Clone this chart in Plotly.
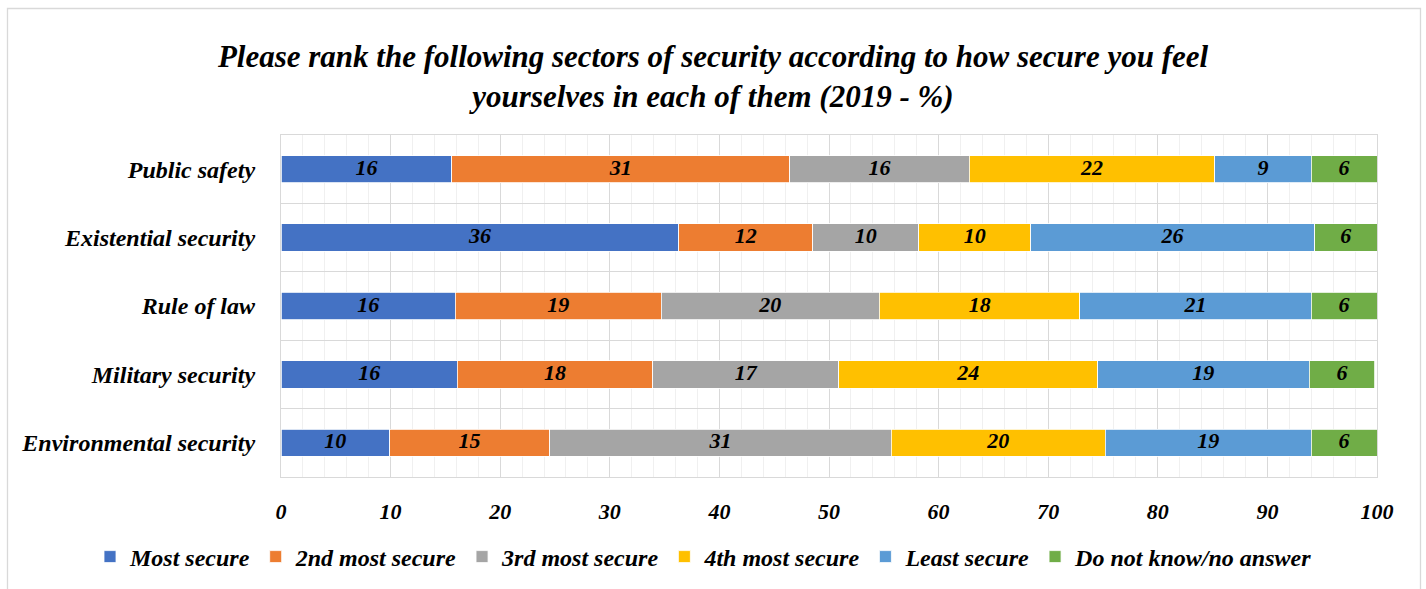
import plotly.graph_objects as go

categories = ["Public safety", "Existential security", "Rule of law", "Military security", "Environmental security"]
series_names = ["Most secure", "2nd most secure", "3rd most secure", "4th most secure", "Least secure", "Do not know/no answer"]
most_secure = [15.6, 36.3, 15.9, 16.1, 9.9]
second_most = [30.8, 12.2, 18.8, 17.8, 14.6]
third_most = [16.4, 9.7, 19.9, 17.0, 31.2]
fourth_most = [22.4, 10.2, 18.3, 23.6, 19.5]
least_secure = [8.8, 25.9, 21.1, 19.3, 18.8]
dont_know = [6.0, 5.7, 6.0, 6.0, 6.0]
labels_most = [16, 36, 16, 16, 10]
labels_second = [31, 12, 19, 18, 15]
labels_third = [16, 10, 20, 17, 31]
labels_fourth = [22, 10, 18, 24, 20]
labels_least = [9, 26, 21, 19, 19]
labels_dk = [6, 6, 6, 6, 6]
colors = ["#4472C4", "#ED7D31", "#A5A5A5", "#FFC000", "#5B9BD5", "#70AD47"]
x_ticks = [0, 10, 20, 30, 40, 50, 60, 70, 80, 90, 100]

values = [most_secure, second_most, third_most, fourth_most, least_secure, dont_know]
labels = [labels_most, labels_second, labels_third, labels_fourth, labels_least, labels_dk]

W, H = 1426, 589
ML, MR, MT, MB = 281, 49, 135, 112
FONT = "'Liberation Serif', 'Times New Roman', Times, serif"

fig = go.Figure()
for name, vals, col in zip(series_names, values, colors):
    fig.add_trace(go.Bar(
        y=categories, x=vals, name=name, orientation="h",
        marker=dict(color=col, line=dict(color="white", width=0.8)),
        hoverinfo="x+y+name",
    ))

# data labels at the centre of each stacked segment (computed from the data)
cum = [0.0] * len(categories)
for vals, labs in zip(values, labels):
    mids = [c + v / 2 for c, v in zip(cum, vals)]
    cum = [c + v for c, v in zip(cum, vals)]
    fig.add_trace(go.Scatter(
        y=categories, x=mids, mode="text", text=[str(v) for v in labs],
        textposition="middle center", showlegend=False, hoverinfo="skip",
        textfont=dict(family=FONT, size=22, color="black", weight="bold", style="italic"),
    ))

pw = W - ML - MR
ph = H - MT - MB
def px2x(p):
    return (p - ML) / pw
def px2y(p):
    return (H - MB - p) / ph

fig.update_layout(
    width=W, height=H,
    margin=dict(l=ML, r=MR, t=MT, b=MB, autoexpand=False),
    barmode="stack", bargap=0.6,
    paper_bgcolor="white", plot_bgcolor="white",
    font=dict(family=FONT, size=20, color="black", weight="bold", style="italic"),
    title=dict(
        text="Please rank the following sectors of security according to how secure you feel<br>yourselves in each of them (2019 - %)",
        x=0.5, xanchor="center", xref="container",
        y=1 - 67 / H, yanchor="middle", yref="container",
        font=dict(family=FONT, size=31, color="black", weight="bold", style="italic"),
    ),
    xaxis=dict(
        range=[0, 100], tickvals=x_ticks, ticktext=[str(t) for t in x_ticks],
        showgrid=True, gridcolor="#D9D9D9", gridwidth=1.3,
        minor=dict(dtick=2, showgrid=True, gridcolor="#F0F0F0", gridwidth=1),
        zeroline=False, showline=True, linecolor="#D9D9D9", linewidth=1.3, mirror=True,
        ticks="", ticklabelstandoff=14,
        tickfont=dict(family=FONT, size=22, color="black", weight="bold", style="italic"),
        fixedrange=True,
    ),
    yaxis=dict(
        categoryorder="array", categoryarray=categories, autorange="reversed",
        tickson="boundaries", showgrid=True, gridcolor="#D9D9D9", gridwidth=1.3,
        zeroline=False, showline=True, linecolor="#D9D9D9", linewidth=1.3, mirror=True,
        ticks="", ticklabelstandoff=20,
        tickfont=dict(family=FONT, size=24, color="black", weight="bold", style="italic"),
        fixedrange=True,
    ),
    legend=dict(
        orientation="h", xref="paper", x=px2x(90), xanchor="left",
        y=px2y(557), yanchor="middle",
        font=dict(family=FONT, size=24, color="black", weight="bold", style="italic"),
        itemwidth=30, traceorder="normal",
    ),
    shapes=[dict(
        type="rect", xref="paper", yref="paper",
        x0=px2x(7.5), x1=px2x(1420.5), y0=px2y(600), y1=px2y(8.5),
        line=dict(color="#D9D9D9", width=1.3), fillcolor="rgba(0,0,0,0)", layer="below",
    )],
)

fig.write_html("out.html")
